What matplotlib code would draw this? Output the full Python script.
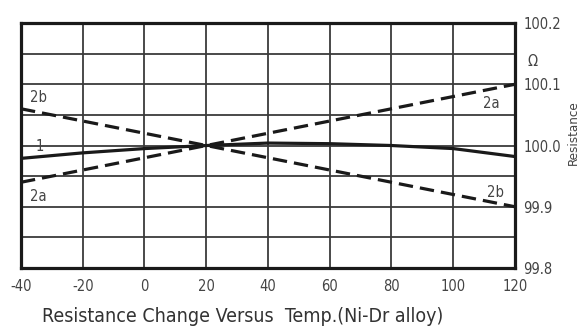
import matplotlib
matplotlib.use("Agg")
import matplotlib.pyplot as plt
from matplotlib import font_manager as fm

names = {f.name for f in fm.fontManager.ttflist}
FONT = 'Liberation Sans Narrow' if 'Liberation Sans Narrow' in names else 'DejaVu Sans'
plt.rcParams['font.family'] = [FONT, 'DejaVu Sans']
plt.rcParams['font.stretch'] = 'condensed'

# Data (temperature in degC, resistance in ohm)
temps = [-40, -20, 0, 20, 40, 60, 80, 100, 120]
curve_1 = [99.979, 99.988, 99.995, 100.0, 100.004, 100.003, 100.0, 99.995, 99.982]
curve_2a = [99.94, 99.96, 99.98, 100.0, 100.02, 100.04, 100.06, 100.08, 100.1]
curve_2b = [100.06, 100.04, 100.02, 100.0, 99.98, 99.96, 99.94, 99.92, 99.9]
x_ticks = [-40, -20, 0, 20, 40, 60, 80, 100, 120]
y_ticks = [99.8, 99.9, 100.0, 100.1, 100.2]
y_ticklabels = ['99.8', '99.9', '100.0', '100.1', '100.2']

fig = plt.figure(figsize=(5.78, 3.29), dpi=100)
ax = fig.add_axes([0.0363, 0.1854, 0.8547, 0.7446])

grid_c = '#3a3a3a'
for x in x_ticks[1:-1]:
    ax.axvline(x, color=grid_c, lw=1.3, zorder=1)
y = 99.85
while y < 100.2:
    ax.axhline(y, color=grid_c, lw=1.3, zorder=1)
    y += 0.05

ax.plot(temps, curve_1, color='#1a1a1a', lw=2.3, zorder=3)
ax.plot(temps, curve_2a, color='#1a1a1a', lw=2.3, ls=(0, (4.5, 2.2)), zorder=3)
ax.plot(temps, curve_2b, color='#1a1a1a', lw=2.3, ls=(0, (4.5, 2.2)), zorder=3)

ax.set_xlim(-40, 120)
ax.set_ylim(99.8, 100.2)
for s in ax.spines.values():
    s.set_linewidth(2.3)
    s.set_color('#1a1a1a')

ax.set_xticks(x_ticks)
ax.set_xticklabels([str(v) for v in x_ticks], fontsize=10.5, color='#444444')
ax.tick_params(axis='x', length=0, pad=8)
ax.yaxis.tick_right()
ax.set_yticks(y_ticks)
ax.set_yticklabels(y_ticklabels, fontsize=10.5, color='#444444')
ax.tick_params(axis='y', length=0, pad=6)

lab = dict(fontsize=10.5, color='#444444', ha='center', va='center', zorder=4)
ax.text(-34.2, 100.079, '2b', **lab)
ax.text(-34.0, 99.998, '1', **lab)
ax.text(-34.5, 99.916, '2a', **lab)
ax.text(112.2, 100.069, '2a', **lab)
ax.text(113.8, 99.924, '2b', **lab)

ax.text(1.025, 0.845, 'Ω', transform=ax.transAxes, fontsize=10.5, color='#444444',
        ha='left', va='center')
fig.text(573 / 578, 1 - 133 / 329, 'Resistance', rotation=90, fontsize=9.5,
         color='#444444', ha='center', va='center')

fig.text(243 / 578, 1 - 317 / 329, 'Resistance Change Versus  Temp.(Ni-Dr alloy)',
         fontsize=14, color='#333333', ha='center', va='center')

fig.savefig('out.png', dpi=100)
